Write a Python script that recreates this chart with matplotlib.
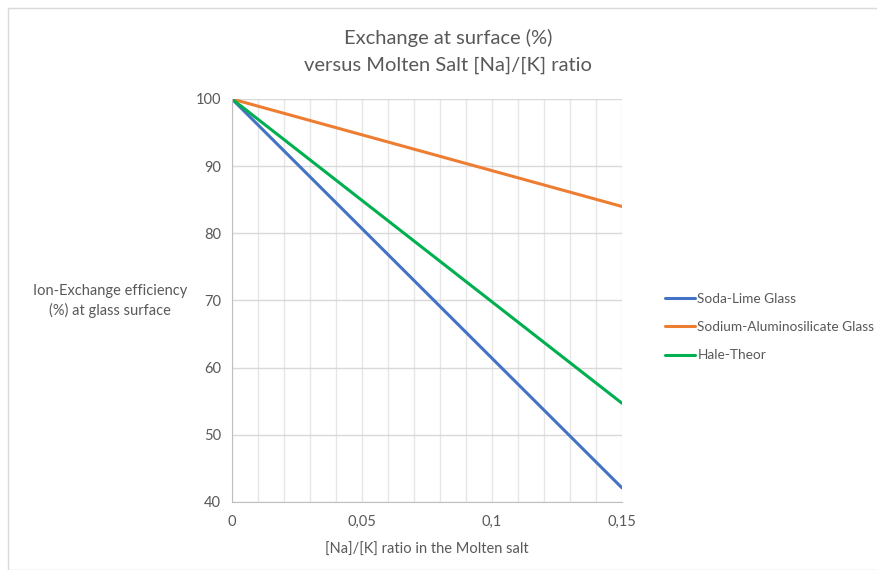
import matplotlib.pyplot as plt
from matplotlib.patches import Rectangle
from matplotlib.ticker import MultipleLocator, FuncFormatter

plt.rcParams['font.family'] = ['Lato', 'DejaVu Sans']

# data (straight lines from 0 to 0.15)
ratio = [0, 0.15]
soda_lime = [100, 42.1]
alumino = [100, 84.0]
hale_theor = [100, 54.7]
series_names = ['Soda-Lime Glass', 'Sodium-Aluminosilicate Glass', 'Hale-Theor']
colors = ['#4472C4', '#ED7D31', '#00B050']

fig = plt.figure(figsize=(8.78, 5.70), dpi=100)
fig.patches.append(Rectangle((8 / 878, 0), 1, 1 - 8 / 570, transform=fig.transFigure,
                             fill=False, edgecolor='#D9D9D9', lw=1))

ax = fig.add_axes([232 / 878, 1 - 502 / 570, 390 / 878, 403 / 570])

for y, name, c in zip([soda_lime, alumino, hale_theor], series_names, colors):
    ax.plot(ratio, y, color=c, lw=2.2, label=name, solid_capstyle='round')

ax.set_xlim(0, 0.15)
ax.set_ylim(40, 100)
ax.xaxis.set_major_locator(MultipleLocator(0.05))
ax.xaxis.set_minor_locator(MultipleLocator(0.01))
ax.yaxis.set_major_locator(MultipleLocator(10))
ax.xaxis.set_major_formatter(FuncFormatter(lambda v, p: ('%g' % round(v, 3)).replace('.', ',')))

ax.grid(True, which='both', axis='x', color='#E6E6E6', lw=1)
ax.grid(True, which='major', axis='y', color='#D9D9D9', lw=1)
ax.set_axisbelow(True)
for s in ['top', 'right']:
    ax.spines[s].set_visible(False)
for s in ['left', 'bottom']:
    ax.spines[s].set_color('#BFBFBF')
ax.tick_params(which='both', length=0, labelsize=10.5, labelcolor='#595959')
ax.tick_params(axis='x', pad=9)
ax.tick_params(axis='y', pad=8)

ax.set_xlabel('[Na]/[K] ratio in the Molten salt', fontsize=10.5, color='#595959', labelpad=10)
fig.text(110 / 878, 1 - 301 / 570, 'Ion-Exchange efficiency\n(%) at glass surface',
         ha='center', va='center', fontsize=10.5, color='#595959', linespacing=1.4)

fig.text(448 / 878, 1 - 38 / 570, 'Exchange at surface (%)', ha='center', va='center',
         fontsize=14.5, color='#595959')
fig.text(448 / 878, 1 - 65 / 570, 'versus Molten Salt [Na]/[K] ratio', ha='center', va='center',
         fontsize=14.5, color='#595959')

leg = ax.legend(loc='center left', bbox_to_anchor=(658 / 878, 1 - 327 / 570),
                bbox_transform=fig.transFigure, frameon=False, fontsize=9.8,
                handlelength=2.2, handletextpad=0.2, labelspacing=1.2, borderpad=0)
for t in leg.get_texts():
    t.set_color('#595959')

fig.savefig('out.png', dpi=100)
